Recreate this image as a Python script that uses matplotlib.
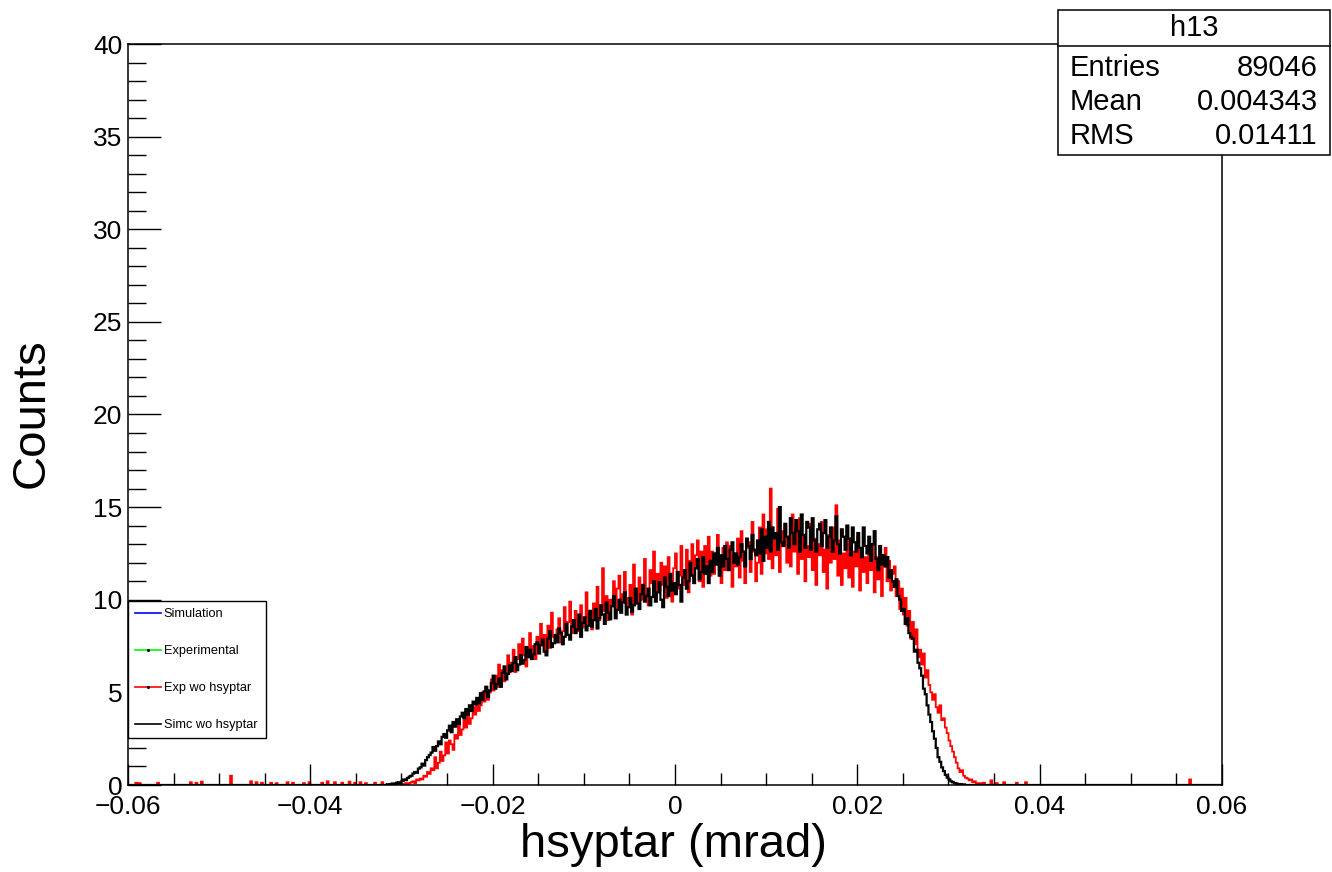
import numpy as np
import matplotlib.pyplot as plt
from matplotlib.lines import Line2D
from matplotlib.patches import Rectangle

plt.rcParams['font.family'] = ['Liberation Sans', 'DejaVu Sans']

# histogram binning (bin width 0.0002 rad)
BW = 0.0002
X_MIN, X_MAX = -0.06, 0.06

# Simc wo hsyptar (black), first bin starts at -0.032, 5 bins per 0.001
simc_start = -0.032
simc_vals = [
    0, 0, 0.04, 0.03, 0.06,
    0.08, 0.05, 0.12, 0.15, 0.1,
    0.22, 0.3, 0.26, 0.38, 0.45,
    0.5, 0.62, 0.7, 0.66, 0.88,
    0.95, 1.15, 1.05, 1.35, 1.5,
    1.62, 1.75, 2.05, 1.85, 2.1,
    2.35, 2.2, 2.6, 2.75, 2.55,
    2.95, 3.2, 2.85, 3.4, 3.15,
    3.55, 3.3, 3.7, 3.9, 3.6,
    4.1, 3.8, 4.3, 4.0, 4.5,
    4.35, 4.7, 4.4, 4.95, 4.6,
    5.05, 5.3, 4.75, 5.1, 5.5,
    5.9, 5.2, 5.45, 5.75, 5.3,
    6.05, 6.4, 5.7, 6.0, 6.45,
    6.15, 6.6, 6.9, 6.2, 6.5,
    7.0, 6.55, 6.75, 7.45, 6.9,
    7.3, 6.8, 7.05, 7.6, 7.7,
    7.1, 7.55, 7.85, 7.2, 7.0,
    7.9, 8.3, 7.45, 7.65, 8.1,
    7.7, 8.45, 8.2, 7.6, 8.0,
    8.7, 8.1, 7.85, 8.55, 8.9,
    8.2, 8.4, 9.2, 8.0, 8.75,
    9.05, 8.35, 8.6, 9.4, 8.55,
    8.9, 9.5, 8.45, 9.0, 9.7,
    9.2, 8.7, 9.85, 9.3, 8.95,
    9.65, 10.2, 9.0, 9.45, 10.0,
    9.3, 9.85, 10.4, 9.2, 9.6,
    10.1, 9.35, 9.7, 10.6, 9.8,
    9.5, 10.3, 10.8, 9.9, 10.2,
    10.6, 9.7, 10.15, 11.0, 9.9,
    10.4, 10.95, 10.0, 9.6, 11.2,
    10.7, 10.2, 11.4, 10.5, 10.9,
    10.3, 11.5, 10.8, 9.9, 11.2,
    11.6, 10.6, 11.0, 12.0, 11.3,
    10.9, 11.7, 12.2, 11.1, 11.5,
    12.3, 11.4, 11.8, 10.9, 12.1,
    11.5, 12.5, 11.9, 12.8, 11.3,
    12.4, 11.8, 12.9, 12.2, 11.6,
    12.7, 13.1, 12.0, 12.5, 11.9,
    12.3, 13.0, 12.6, 11.8, 13.3,
    12.9, 12.2, 13.5, 12.7, 12.4,
    13.2, 12.5, 13.8, 12.1, 13.4,
    12.8, 14.2, 12.6, 13.9, 13.3,
    13.6, 12.7, 15.0, 13.1, 12.9,
    14.1, 13.4, 12.8, 14.4, 13.6,
    13.0, 14.3, 13.7, 12.6, 14.6,
    13.5, 12.8, 14.2, 13.9, 12.7,
    14.4, 13.2, 12.6, 13.8, 14.1,
    12.9, 13.6, 14.3, 12.8, 13.4,
    13.9, 12.6, 13.2, 14.5, 13.0,
    12.5, 13.8, 13.4, 12.7, 14.0,
    13.3, 12.4, 13.9, 13.1, 12.6,
    13.6, 12.8, 12.3, 13.9, 12.9,
    12.5, 13.4, 12.1, 13.0, 13.7,
    12.2, 11.6, 12.9, 11.9, 12.4,
    11.8, 12.3, 11.2, 11.6, 11.0,
    10.7, 11.1, 10.2, 10.0, 9.4,
    9.5, 8.7, 9.0, 8.2, 8.0,
    7.9, 7.2, 7.3, 6.6, 6.3,
    5.9, 5.2, 4.9, 4.3, 3.8,
    3.4, 2.9, 2.5, 2.0, 1.5,
    1.25, 0.95, 0.75, 0.55, 0.4,
    0.3, 0.2, 0.15, 0.1, 0.08,
    0.05, 0.04, 0, 0.03, 0,
]

# Exp wo hsyptar (red), first bin starts at -0.030
exp_start = -0.030
exp_vals = [
    0.05, 0, 0.1, 0.05, 0.1,
    0.15, 0.2, 0.1, 0.3, 0.25,
    0.35, 0.3, 0.5, 0.45, 0.7,
    0.6, 0.9, 0.8, 1.5, 0.9,
    1.2, 1.8, 1.3, 1.6, 2.3,
    1.7, 2.4, 2.2, 1.9, 2.7,
    2.5, 3.2, 2.7, 3.0, 3.5,
    3.1, 3.9, 3.3, 3.6, 4.2,
    3.8, 4.6, 4.0, 4.3, 5.0,
    4.5, 5.3, 4.6, 5.0, 5.7,
    5.1, 5.9, 5.3, 6.5, 5.4,
    6.2, 5.6, 5.9, 7.0, 6.1,
    6.6, 7.3, 6.1, 6.8, 7.6,
    6.7, 7.9, 7.0, 6.4, 7.4,
    8.2, 7.1, 7.5, 6.8, 8.0,
    7.3, 8.7, 7.6, 8.1, 7.2,
    8.6, 7.4, 9.3, 8.0, 7.8,
    8.4, 9.0, 7.7, 8.3, 9.6,
    8.1, 8.8, 9.9, 8.2, 8.6,
    9.4, 8.3, 8.9, 9.7, 8.5,
    9.0, 10.4, 8.7, 9.3, 8.4,
    9.8, 9.1, 10.7, 8.9, 9.5,
    11.7, 9.4, 10.2, 8.9, 10.0,
    9.7, 11.0, 9.3, 10.6, 11.3,
    9.5, 10.3, 11.5, 9.6, 10.1,
    10.8, 9.2, 11.9, 10.4, 9.8,
    11.2, 10.0, 10.6, 12.2, 10.3,
    9.7, 11.6, 10.9, 12.6, 10.2,
    11.4, 10.5, 12.0, 10.8, 11.8,
    10.1, 12.3, 11.0, 9.9, 11.7,
    12.5, 10.6, 11.3, 12.9, 10.8,
    11.5, 12.7, 10.4, 12.1, 13.0,
    11.2, 12.4, 13.2, 11.0, 12.6,
    10.7, 12.9, 11.8, 13.4, 11.3,
    12.6, 11.4, 12.2, 13.5, 11.6,
    10.9, 12.8, 11.6, 13.1, 12.0,
    12.9, 10.7, 12.4, 11.8, 13.3,
    11.2, 13.7, 12.1, 10.9, 12.8,
    13.1, 11.5, 14.2, 12.6, 11.0,
    12.0, 13.9, 11.4, 14.6, 12.5,
    13.8, 12.2, 16.0, 11.7, 13.2,
    12.4, 14.9, 11.5, 13.7, 12.9,
    14.0, 12.0, 13.3, 11.8, 14.6,
    12.6, 13.9, 11.4, 14.4, 12.2,
    13.4, 11.0, 12.9, 12.3, 14.1,
    11.6, 13.3, 10.8, 13.0, 12.4,
    14.2, 11.5, 12.7, 10.6, 13.5,
    12.0, 13.9, 12.2, 15.1, 11.3,
    13.2, 10.8, 12.5, 11.7, 14.0,
    11.2, 13.1, 10.7, 12.6, 11.8,
    13.4, 10.5, 12.8, 11.5, 12.3,
    10.9, 12.5, 11.6, 13.0, 10.4,
    12.3, 11.1, 12.2, 10.2, 11.8,
    12.8, 11.0, 12.1, 10.5, 11.4,
    11.8, 10.2, 11.0, 9.5, 10.6,
    9.2, 10.1, 8.6, 9.4, 7.9,
    8.8, 7.6, 8.4, 6.9, 7.3,
    6.5, 7.1, 5.8, 6.2, 5.4,
    5.0, 4.6, 4.9, 4.2, 3.9,
    4.3, 3.5, 3.6, 3.1, 2.8,
    2.4, 2.1, 1.8, 1.5, 1.2,
    0.9, 0.7, 0.8, 0.5, 0.4,
    0.35, 0.25, 0.3, 0.15, 0.2,
    0.1, 0.05, 0.1, 0, 0.05,
]

# isolated red entries far from the peak
exp_tail_x = [-0.0591, -0.0587, -0.0567, -0.0531, -0.0525, -0.0519, -0.0487,
              -0.0465, -0.0459, -0.0453, -0.0443, -0.0437, -0.0425, -0.0419,
              -0.0407, -0.0401, -0.0387, -0.0381, -0.0373, -0.0365, -0.0357,
              -0.0351, -0.0345, -0.0339, -0.0329, -0.0321,
              0.0339, 0.0347, 0.0353, 0.0361, 0.0375, 0.0385, 0.0565]
exp_tail_y = [0.12, 0.1, 0.12, 0.15, 0.12, 0.18, 0.5,
              0.2, 0.15, 0.12, 0.12, 0.1, 0.15, 0.12,
              0.1, 0.15, 0.12, 0.2, 0.15, 0.12, 0.18,
              0.12, 0.15, 0.1, 0.12, 0.15,
              0.12, 0.25, 0.1, 0.15, 0.12, 0.15, 0.3]

legend_labels = ['Simulation', 'Experimental', 'Exp wo hsyptar', 'Simc wo hsyptar']
legend_colors = ['#0000ff', '#00ff00', '#ff0000', '#000000']

x_ticks = [-0.06, -0.04, -0.02, 0, 0.02, 0.04, 0.06]
x_tick_labels = ['\u22120.06', '\u22120.04', '\u22120.02', '0', '0.02', '0.04', '0.06']
y_ticks = [0, 5, 10, 15, 20, 25, 30, 35, 40]

stats_title = 'h13'
stats_rows = [('Entries', '89046'), ('Mean', '0.004343'), ('RMS', '0.01411')]

# full-range histograms
n_bins = int(round((X_MAX - X_MIN) / BW))
edges = X_MIN + BW * np.arange(n_bins + 1)

simc_h = np.zeros(n_bins)
i0 = int(round((simc_start - X_MIN) / BW))
simc_h[i0:i0 + len(simc_vals)] = simc_vals

exp_h = np.zeros(n_bins)
i0 = int(round((exp_start - X_MIN) / BW))
exp_h[i0:i0 + len(exp_vals)] = exp_vals
for x, y in zip(exp_tail_x, exp_tail_y):
    exp_h[int((x - X_MIN) // BW)] = y

W, H = 1332, 872
fig = plt.figure(figsize=(W / 100, H / 100), dpi=100)
fx = lambda px: px / W
fy = lambda py: 1 - py / H

ax = fig.add_axes([fx(128), fy(785), fx(1222) - fx(128), fy(44) - fy(785)])
ax.stairs(exp_h, edges, color='#ff0000', lw=1.3)
ax.stairs(simc_h, edges, color='#000000', lw=1.6)

ax.set_xlim(X_MIN, X_MAX)
ax.set_ylim(0, 40)
ax.set_xticks(x_ticks)
ax.set_xticklabels(x_tick_labels)
ax.set_xticks(np.arange(-0.06, 0.0601, 0.005), minor=True)
ax.set_yticks(y_ticks)
ax.set_yticks(np.arange(0, 41, 1), minor=True)
ax.tick_params(axis='both', which='both', direction='in', width=1.0,
               labelsize=19, top=False, right=False)
ax.tick_params(axis='x', which='major', length=15, pad=7)
ax.tick_params(axis='x', which='minor', length=8.5)
ax.tick_params(axis='y', which='major', length=24, pad=4)
ax.tick_params(axis='y', which='minor', length=13)
for s in ax.spines.values():
    s.set_linewidth(1.1)

fig.text(fx(673), fy(845), 'hsyptar (mrad)', fontsize=34, ha='center', va='center')
fig.text(fx(32), fy(413), 'Counts', fontsize=34, rotation=90, ha='center', va='center')

# legend
handles = []
for lab, c in zip(legend_labels, legend_colors):
    mk = '.' if lab in ('Experimental', 'Exp wo hsyptar') else None
    handles.append(Line2D([], [], color=c, lw=1.2, marker=mk, markersize=2.5,
                          markerfacecolor='black', markeredgecolor='black'))
leg = ax.legend(handles, legend_labels, loc='lower left',
                bbox_to_anchor=(0, (785 - 738) / 741, (266 - 128) / 1094, (738 - 599) / 741),
                mode='expand', borderaxespad=0, fontsize=9.2, handlelength=2.0,
                handletextpad=0.25, labelspacing=1.95, borderpad=0.55,
                fancybox=False, framealpha=1, edgecolor='black')
leg.get_frame().set_linewidth(1.0)

# stats box
box_l, box_r, box_t, box_m, box_b = 1058, 1330, 10, 46, 155
fig.add_artist(Rectangle((fx(box_l), fy(box_b)), fx(box_r) - fx(box_l), fy(box_t) - fy(box_b),
                         transform=fig.transFigure, facecolor='white', edgecolor='black', lw=1.1))
fig.add_artist(Line2D([fx(box_l), fx(box_r)], [fy(box_m), fy(box_m)],
                      transform=fig.transFigure, color='black', lw=1.1))
fig.text(fx((box_l + box_r) / 2), fy(28), stats_title, fontsize=21, ha='center', va='center')
for k, (name, val) in enumerate(stats_rows):
    yy = fy(68 + k * 34)
    fig.text(fx(1070), yy, name, fontsize=21, ha='left', va='center')
    fig.text(fx(1318), yy, val, fontsize=21, ha='right', va='center')

fig.savefig('out.png', dpi=100)
